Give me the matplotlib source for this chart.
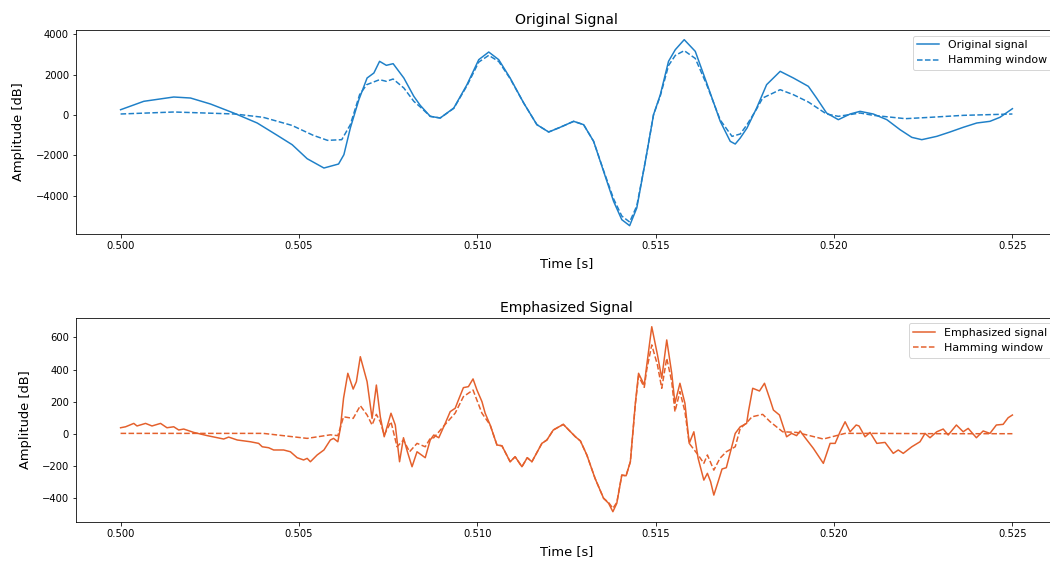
import numpy as np
import matplotlib
matplotlib.use("Agg")
import matplotlib.pyplot as plt

# original signal (time [s], amplitude)
t_orig = [0.50000, 0.50065, 0.50149, 0.50196, 0.50252, 0.50317, 0.50383, 0.50439,
          0.50481, 0.50523, 0.50570, 0.50611, 0.50626, 0.50644, 0.50668, 0.50691,
          0.50710, 0.50726, 0.50745, 0.50764, 0.50794, 0.50822, 0.50840, 0.50868,
          0.50896, 0.50934, 0.50971, 0.51004, 0.51032, 0.51060, 0.51092, 0.51130,
          0.51167, 0.51200, 0.51232, 0.51270, 0.51298, 0.51326, 0.51354, 0.51382,
          0.51405, 0.51427, 0.51447, 0.51471, 0.51494, 0.51513, 0.51536, 0.51555,
          0.51580, 0.51611, 0.51643, 0.51681, 0.51709, 0.51723, 0.51737, 0.51756,
          0.51783, 0.51811, 0.51849, 0.51886, 0.51928, 0.51951, 0.51979, 0.52012,
          0.52045, 0.52073, 0.52110, 0.52148, 0.52185, 0.52218, 0.52246, 0.52288,
          0.52325, 0.52362, 0.52400, 0.52437, 0.52465, 0.52500]
orig = [262, 678, 891, 841, 545, 99, -396, -1005,
        -1470, -2163, -2624, -2426, -1963, -644, 759, 1832,
        2079, 2657, 2459, 2541, 1832, 924, 478, -66,
        -148, 346, 1502, 2739, 3118, 2739, 1832, 594,
        -478, -841, -610, -313, -478, -1303, -2789, -4274,
        -5181, -5478, -4604, -2294, 17, 1006, 2657, 3234,
        3729, 3151, 1584, -313, -1303, -1436, -1139, -644,
        346, 1502, 2162, 1832, 1419, 841, 99, -231,
        50, 182, 50, -231, -726, -1106, -1221, -1056,
        -841, -610, -396, -313, -115, 313]

t_orig_win = [0.50000, 0.50150, 0.50320, 0.50400, 0.50480, 0.50540, 0.50580, 0.50620,
              0.50644, 0.50670, 0.50690, 0.50726, 0.50745, 0.50764, 0.50794, 0.50822,
              0.50840, 0.50868, 0.50896, 0.50934, 0.50971, 0.51004, 0.51032, 0.51060,
              0.51092, 0.51130, 0.51167, 0.51200, 0.51232, 0.51270, 0.51298, 0.51326,
              0.51354, 0.51382, 0.51405, 0.51427, 0.51447, 0.51471, 0.51494, 0.51513,
              0.51536, 0.51555, 0.51580, 0.51611, 0.51643, 0.51681, 0.51714, 0.51737,
              0.51756, 0.51783, 0.51800, 0.51849, 0.51886, 0.51928, 0.51979, 0.52012,
              0.52073, 0.52110, 0.52200, 0.52269, 0.52362, 0.52500]
orig_win = [50, 149, 50, -115, -512, -1005, -1254, -1221,
            -479, 1006, 1502, 1749, 1667, 1782, 1337, 677,
            400, -66, -148, 330, 1450, 2620, 2953, 2650,
            1800, 594, -478, -841, -610, -313, -478, -1303,
            -2750, -4150, -5000, -5297, -4500, -2294, 17, 950,
            2450, 2950, 3185, 2800, 1500, -250, -1056, -940,
            -478, 300, 841, 1254, 1006, 643, 50, -66,
            99, -17, -181, -115, -17, 50]

# emphasized signal
t_emph = [0.50000, 0.50014, 0.50037, 0.50046, 0.50070, 0.50088, 0.50112, 0.50130,
          0.50149, 0.50163, 0.50177, 0.50205, 0.50243, 0.50271, 0.50289, 0.50303,
          0.50327, 0.50364, 0.50387, 0.50397, 0.50415, 0.50429, 0.50457, 0.50476,
          0.50495, 0.50513, 0.50523, 0.50532, 0.50551, 0.50570, 0.50588, 0.50597,
          0.50609, 0.50616, 0.50625, 0.50637, 0.50652, 0.50661, 0.50672, 0.50691,
          0.50705, 0.50717, 0.50728, 0.50739, 0.50758, 0.50770, 0.50782, 0.50793,
          0.50804, 0.50817, 0.50831, 0.50854, 0.50868, 0.50878, 0.50892, 0.50910,
          0.50924, 0.50938, 0.50947, 0.50961, 0.50975, 0.50988, 0.50999, 0.51013,
          0.51022, 0.51036, 0.51055, 0.51069, 0.51092, 0.51106, 0.51125, 0.51140,
          0.51153, 0.51181, 0.51195, 0.51213, 0.51241, 0.51275, 0.51289, 0.51307,
          0.51330, 0.51354, 0.51368, 0.51380, 0.51391, 0.51405, 0.51417, 0.51429,
          0.51443, 0.51452, 0.51468, 0.51475, 0.51489, 0.51505, 0.51517, 0.51531,
          0.51545, 0.51554, 0.51568, 0.51582, 0.51594, 0.51607, 0.51619, 0.51635,
          0.51645, 0.51654, 0.51663, 0.51675, 0.51686, 0.51698, 0.51723, 0.51737,
          0.51755, 0.51760, 0.51772, 0.51791, 0.51805, 0.51821, 0.51830, 0.51847,
          0.51867, 0.51881, 0.51895, 0.51905, 0.51919, 0.51942, 0.51970, 0.51989,
          0.52003, 0.52017, 0.52031, 0.52045, 0.52062, 0.52070, 0.52087, 0.52101,
          0.52120, 0.52143, 0.52166, 0.52180, 0.52194, 0.52218, 0.52241, 0.52255,
          0.52269, 0.52288, 0.52306, 0.52320, 0.52343, 0.52362, 0.52376, 0.52399,
          0.52418, 0.52437, 0.52455, 0.52474, 0.52488, 0.52500]
emph = [39, 45, 66, 50, 66, 50, 66, 39,
        45, 25, 31, 10, -10, -23, -31, -19,
        -37, -48, -58, -79, -85, -99, -99, -110,
        -147, -161, -151, -172, -130, -99, -37, -27,
        -48, 35, 222, 377, 279, 325, 480, 325,
        97, 304, 107, -17, 129, 56, -172, -23,
        -110, -203, -110, -147, -37, -6, -23, 66,
        139, 160, 211, 288, 294, 342, 273, 201,
        129, 56, -68, -73, -172, -141, -203, -147,
        -172, -58, -37, 25, 60, -17, -43, -130,
        -275, -399, -430, -482, -430, -255, -259, -172,
        191, 377, 304, 428, 666, 491, 346, 584,
        377, 191, 315, 191, -58, 14, -151, -286,
        -244, -296, -379, -296, -217, -209, 4, 45,
        66, 139, 284, 267, 315, 211, 149, 118,
        -17, 4, -10, 19, -23, -89, -182, -58,
        -58, 14, 76, 14, 56, 50, -17, 10,
        -58, -52, -120, -99, -120, -79, -48, 4,
        -23, 14, 31, -6, 56, 14, 35, -23,
        19, 4, 56, 60, 101, 118]

t_emph_win = [0.50000, 0.50200, 0.50400, 0.50523, 0.50588, 0.50609, 0.50625, 0.50652,
              0.50672, 0.50691, 0.50705, 0.50717, 0.50728, 0.50739, 0.50758, 0.50775,
              0.50793, 0.50810, 0.50831, 0.50854, 0.50868, 0.50878, 0.50910, 0.50938,
              0.50961, 0.50988, 0.51013, 0.51036, 0.51055, 0.51069, 0.51092, 0.51106,
              0.51125, 0.51140, 0.51153, 0.51181, 0.51195, 0.51213, 0.51241, 0.51275,
              0.51289, 0.51307, 0.51330, 0.51354, 0.51368, 0.51380, 0.51391, 0.51405,
              0.51417, 0.51429, 0.51443, 0.51452, 0.51468, 0.51475, 0.51489, 0.51505,
              0.51517, 0.51531, 0.51545, 0.51554, 0.51568, 0.51582, 0.51594, 0.51619,
              0.51635, 0.51645, 0.51663, 0.51680, 0.51698, 0.51723, 0.51737, 0.51755,
              0.51770, 0.51800, 0.51821, 0.51856, 0.51895, 0.51970, 0.52031, 0.52120,
              0.52300, 0.52500]
emph_win = [4, 4, 4, -27, -5, -10, 107, 97,
            176, 118, 56, 122, 76, -6, 76, -79,
            -37, -110, -58, -79, -27, -23, 60, 130,
            232, 273, 129, 56, -68, -73, -172, -141,
            -203, -147, -172, -58, -37, 25, 60, -17,
            -43, -130, -275, -399, -425, -461, -425, -255,
            -259, -172, 185, 360, 290, 400, 553, 428,
            284, 470, 325, 139, 263, 139, -58, -130,
            -182, -130, -224, -151, -110, -79, 35, 70,
            107, 122, 76, 14, 10, -31, 4, 4,
            2, 2]

blue = '#1f80c8'
orange = '#e4602c'

fig = plt.figure(figsize=(1050 / 72, 561 / 72), dpi=72)
ax1 = fig.add_axes([76 / 1050, 1 - 234 / 561, 981 / 1050, 204 / 561])
ax2 = fig.add_axes([76 / 1050, 1 - 522 / 561, 981 / 1050, 204.3 / 561])

ax1.plot(t_orig, orig, '-', color=blue, label='Original signal')
ax1.plot(t_orig_win, orig_win, '--', color=blue, label='Hamming window')
ax1.set_ylim(-5890, 4208)
ax1.set_title('Original Signal', fontsize=14)
ax1.set_xlabel('Time [s]', fontsize=13, labelpad=6)
ax1.set_ylabel('Amplitude [dB]', fontsize=13, labelpad=10)
ax1.legend(loc='upper right', fontsize=11)

ax2.plot(t_emph, emph, '-', color=orange, label='Emphasized signal')
ax2.plot(t_emph_win, emph_win, '--', color=orange, label='Hamming window')
ax2.set_ylim(-546, 722)
ax2.set_title('Emphasized Signal', fontsize=14)
ax2.set_xlabel('Time [s]', fontsize=13, labelpad=6)
ax2.set_ylabel('Amplitude [dB]', fontsize=13, labelpad=10)
ax2.legend(loc='upper right', fontsize=11)

for ax in (ax1, ax2):
    ax.set_xlim(0.49875, 0.52625)
    ax.set_xticks([0.500, 0.505, 0.510, 0.515, 0.520, 0.525])
    ax.set_xticklabels(['0.500', '0.505', '0.510', '0.515', '0.520', '0.525'])

fig.savefig('out.png', dpi=72)
